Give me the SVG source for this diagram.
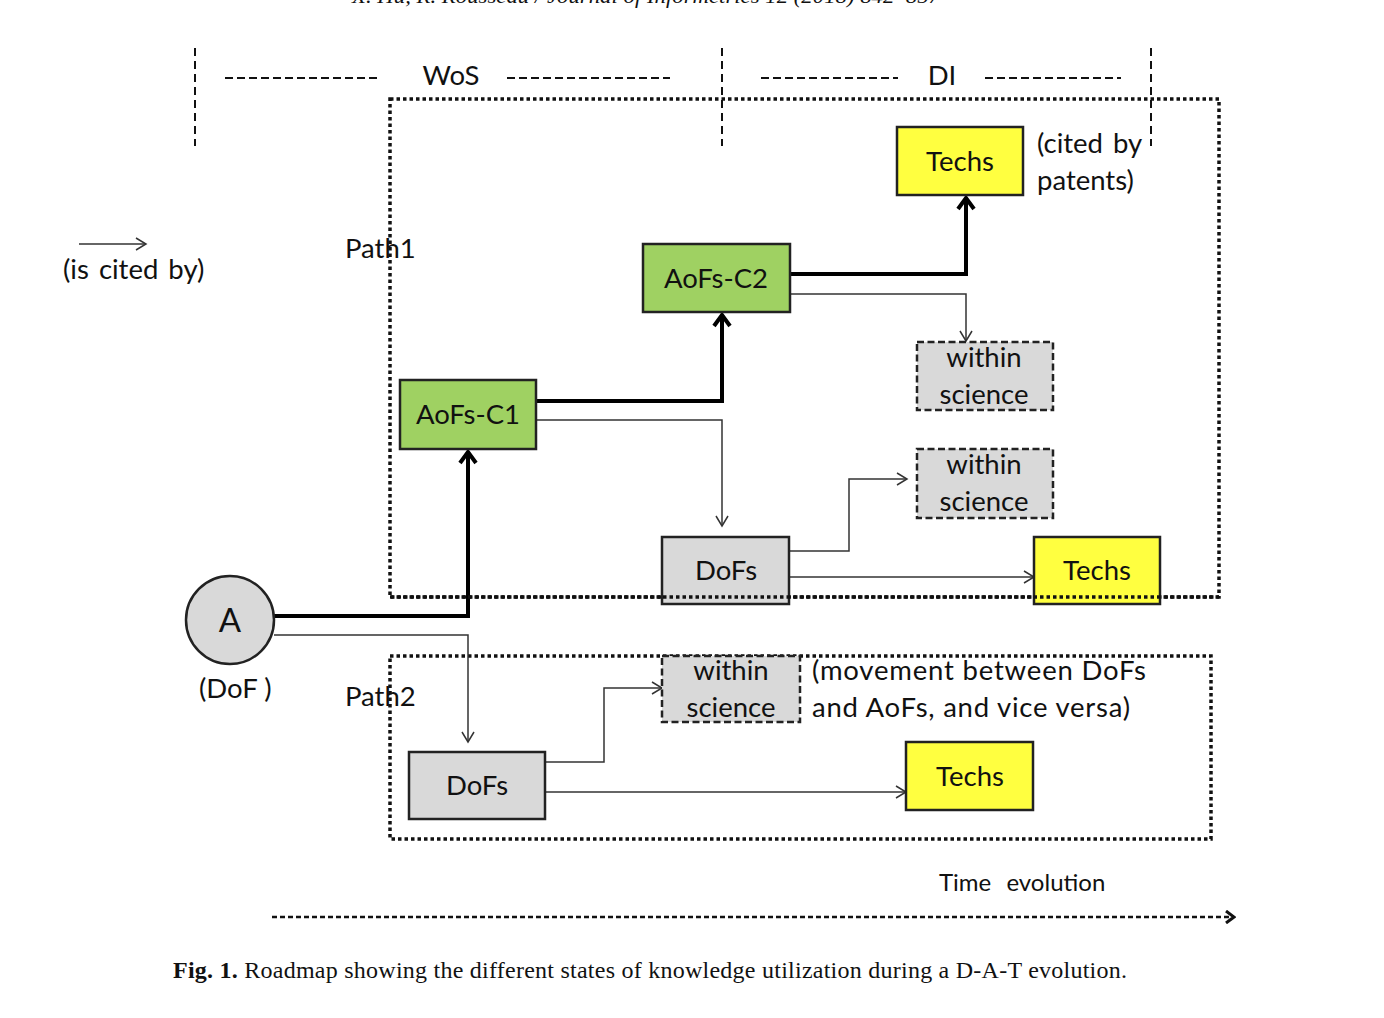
<svg xmlns="http://www.w3.org/2000/svg" width="1384" height="1018" viewBox="0 0 1384 1018">
<style>
.t{font-family:Lato,"Open Sans","Liberation Sans",sans-serif;font-size:27.5px;fill:#111}
.c{text-anchor:middle}
.ws{word-spacing:3px}
.box{stroke:#222;stroke-width:2.5}
.yel{fill:#ffff40}
.grn{fill:#9fd162}
.gry{fill:#d9d9d9}
.dash{fill:#d9d9d9;stroke:#222;stroke-width:2.5;stroke-dasharray:7 3.5}
.dot{fill:none;stroke:#111;stroke-width:3.5;stroke-dasharray:3.5 3}
.hd{fill:none;stroke:#111;stroke-width:2;stroke-dasharray:8 4}
.vd{fill:none;stroke:#111;stroke-width:2;stroke-dasharray:8 5}
.thick{fill:none;stroke:#000;stroke-width:4;marker-end:url(#ah)}
.thin{fill:none;stroke:#333;stroke-width:1.5;marker-end:url(#at)}
.cap{font-family:"Liberation Serif","DejaVu Serif",serif;font-size:24px;fill:#111}
</style>
<defs>
<marker id="ah" viewBox="0 0 20 20" refX="17" refY="10" markerWidth="20" markerHeight="20" orient="auto" markerUnits="userSpaceOnUse">
<path d="M6,2 L17,10 L6,18" fill="none" stroke="#000" stroke-width="4"/>
</marker>
<marker id="at" viewBox="0 0 14 14" refX="12" refY="7" markerWidth="14" markerHeight="14" orient="auto" markerUnits="userSpaceOnUse">
<path d="M2,1 L12,7 L2,13" fill="none" stroke="#333" stroke-width="1.5"/>
</marker>
<marker id="tm" viewBox="0 0 14 14" refX="12" refY="7" markerWidth="14" markerHeight="14" orient="auto" markerUnits="userSpaceOnUse">
<path d="M4,1 L12,7 L4,13" fill="none" stroke="#111" stroke-width="3"/>
</marker>
</defs>
<rect width="1384" height="1018" fill="#fff"/>
<text x="352" y="3" textLength="588" lengthAdjust="spacingAndGlyphs" style="font-family:'Liberation Serif',serif;font-style:italic;font-size:20px;fill:#111">X. Hu, R. Rousseau / Journal of Informetrics 12 (2018) 842–857</text>

<g id="header">
<path class="vd" d="M195,48 V146 M722,48 V146 M1151,48 V146"/>
<path class="hd" d="M225,78 H378 M507,78 H670 M761,78 H898 M985,78 H1121"/>
<text class="t c" x="451" y="85">WoS</text>
<text class="t c" x="942" y="85">DI</text>
</g>

<g id="path1-region">
<rect class="dot" x="390" y="99" width="829" height="498"/>
<text class="t" x="345" y="258">Path1</text>
</g>
<g id="path2-region">
<rect class="dot" x="390" y="656" width="821" height="183"/>
<text class="t" x="345" y="706">Path2</text>
</g>

<g id="legend">
<path d="M79,244 H146" fill="none" stroke="#333" stroke-width="1.5" marker-end="url(#at)"/>
<text class="t ws" x="63" y="279">(is cited by)</text>
</g>

<g id="connectors">
<path class="thick" d="M274,616 H468 V452"/>
<path class="thick" d="M536,401 H722 V315"/>
<path class="thick" d="M790,274 H966 V198"/>
<path class="thin" d="M790,294 H966 V341"/>
<path class="thin" d="M536,420 H722 V526"/>
<path class="thin" d="M789,551 H849 V479 H907"/>
<path class="thin" d="M789,577 H1034"/>
<path class="thin" d="M274,635 H468 V742"/>
<path class="thin" d="M545,762 H604 V688 H662"/>
<path class="thin" d="M545,792 H906"/>
</g>

<g id="node-A">
<circle class="gry box" cx="230" cy="620" r="44"/>
<text class="t c" x="230" y="632" style="font-size:33px">A</text>
<text class="t" x="199" y="698">(DoF )</text>
</g>
<g id="node-techs-top">
<rect class="yel box" x="897" y="127" width="126" height="68"/>
<text class="t c" x="960" y="171">Techs</text>
<text class="t ws" x="1037" y="153">(cited by</text>
<text class="t" x="1037" y="190">patents)</text>
</g>
<g id="node-aofs-c2">
<rect class="grn box" x="643" y="244" width="147" height="68"/>
<text class="t c" x="716" y="288">AoFs-C2</text>
</g>
<g id="node-aofs-c1">
<rect class="grn box" x="400" y="380" width="136" height="69"/>
<text class="t c" x="468" y="424">AoFs-C1</text>
</g>
<g id="node-within-1">
<rect class="dash" x="917" y="342" width="136" height="68"/>
<text class="t c" x="984" y="367">within</text>
<text class="t c" x="984" y="404">science</text>
</g>
<g id="node-within-2">
<rect class="dash" x="917" y="449" width="136" height="69"/>
<text class="t c" x="984" y="474">within</text>
<text class="t c" x="984" y="511">science</text>
</g>
<g id="node-dofs-1">
<rect class="gry box" x="662" y="537" width="127" height="67"/>
<text class="t c" x="726" y="580">DoFs</text>
</g>
<g id="node-techs-mid">
<rect class="yel box" x="1034" y="537" width="126" height="67"/>
<text class="t c" x="1097" y="580">Techs</text>
</g>
<path class="dot" d="M390,597 H1219" />
<g id="node-within-3">
<rect class="dash" x="662" y="656" width="138" height="66"/>
<text class="t c" x="731" y="680">within</text>
<text class="t c" x="731" y="717">science</text>
<text class="t" x="812" y="680" textLength="334" lengthAdjust="spacing">(movement between DoFs</text>
<text class="t" x="812" y="717" textLength="318" lengthAdjust="spacing">and AoFs, and vice versa)</text>
</g>
<g id="node-dofs-2">
<rect class="gry box" x="409" y="752" width="136" height="67"/>
<text class="t c" x="477" y="795">DoFs</text>
</g>
<g id="node-techs-bot">
<rect class="yel box" x="906" y="742" width="127" height="68"/>
<text class="t c" x="970" y="786">Techs</text>
</g>

<g id="time">
<text class="t" x="939" y="891" style="font-size:24px;word-spacing:9px">Time evolution</text>
<path d="M272,917 H1234" fill="none" stroke="#111" stroke-width="2.5" stroke-dasharray="5 3" marker-end="url(#tm)"/>
</g>

<text class="cap" x="173" y="978" textLength="954" lengthAdjust="spacing"><tspan font-weight="bold">Fig. 1.</tspan>  Roadmap showing the different states of knowledge utilization during a D-A-T evolution.</text>
</svg>
